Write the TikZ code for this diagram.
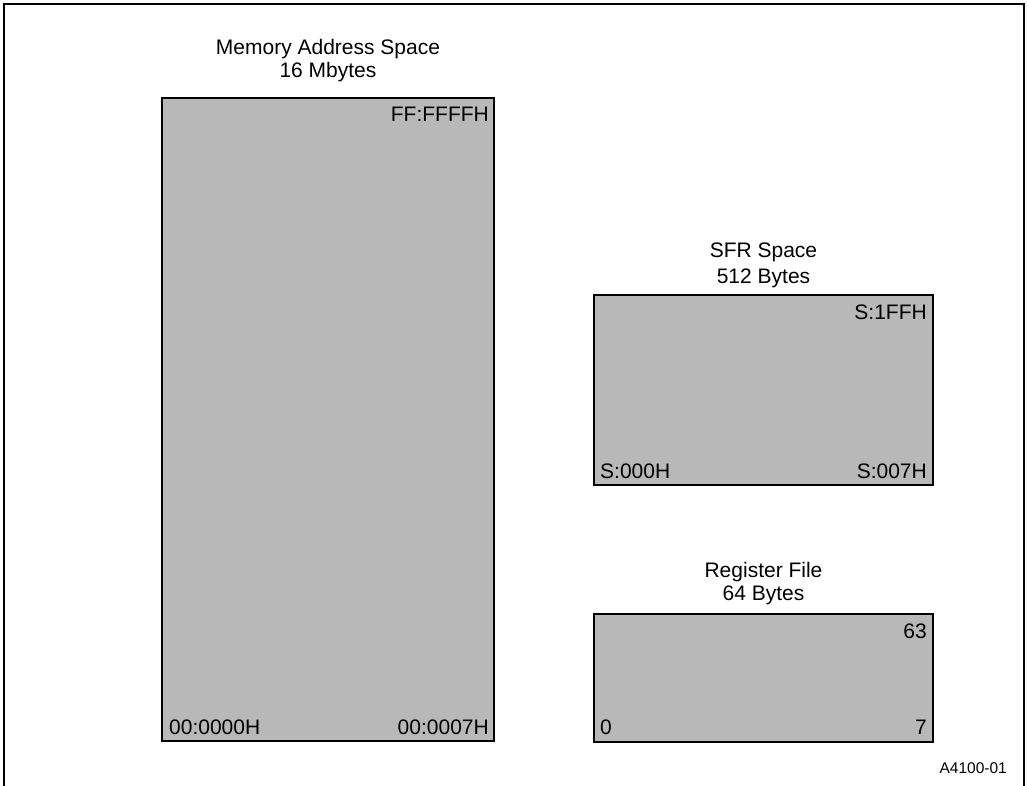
\documentclass[tikz,border=0pt]{standalone}
\usepackage{fontspec}
\setmainfont{Liberation Sans}
\definecolor{halftone}{RGB}{184,184,184}
\begin{document}
\begin{tikzpicture}[x=1pt,y=-1pt,
  membox/.style={draw=black, line width=2.8pt, fill=halftone, inner sep=0pt, outer sep=0pt},
  lbl/.style={font=\fontsize{21}{24}\selectfont, inner sep=0pt},
  small/.style={font=\fontsize{15.5}{18}\selectfont, inner sep=0pt}]
\useasboundingbox (0,0) rectangle (1027,786);
% outer frame
\draw[line width=2pt] (4,786) -- (4,4) -- (1024,4) -- (1024,786);
% boxes
\node[membox, minimum width=332pt, minimum height=643pt] (mem) at (328,419.5) {};
\node[membox, minimum width=339pt, minimum height=190pt] (sfr) at (763.5,390) {};
\node[membox, minimum width=339pt, minimum height=128pt] (reg) at (763.5,678) {};
% titles
\node[lbl, anchor=base] (memt1) at (328,55) {Memory Address Space};
\node[lbl, anchor=base] (memt2) at (328,78) {16 Mbytes};
\node[lbl, anchor=base] (sfrt1) at (763.5,258) {SFR Space};
\node[lbl, anchor=base] (sfrt2) at (763.5,283) {512 Bytes};
\node[lbl, anchor=base] (regt1) at (763.5,577) {Register File};
\node[lbl, anchor=base] (regt2) at (763.5,600) {64 Bytes};
% corner labels
\node[lbl, anchor=base east] (memtr) at (489,122) {FF:FFFFH};
\node[lbl, anchor=base west] (membl) at (169,734) {00:0000H};
\node[lbl, anchor=base east] (membr) at (489,734) {00:0007H};
\node[lbl, anchor=base east] (sfrtr) at (927,319) {S:1FFH};
\node[lbl, anchor=base west] (sfrbl) at (600,478) {S:000H};
\node[lbl, anchor=base east] (sfrbr) at (927,478) {S:007H};
\node[lbl, anchor=base east] (regtr) at (927,638) {63};
\node[lbl, anchor=base west] (regbl) at (600,734) {0};
\node[lbl, anchor=base east] (regbr) at (927,734) {7};
\node[small, anchor=base east] (fig) at (1007,773) {A4100-01};
\end{tikzpicture}
\end{document}
